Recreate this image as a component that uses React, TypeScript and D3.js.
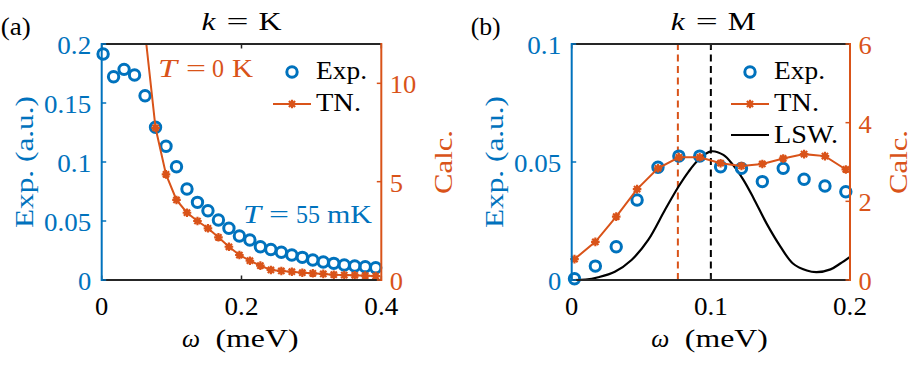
import React from "react";
import * as d3 from "d3";

const BLUE = "#0072BD";
const ORANGE = "#D95319";
const AXIS = "#262626";
const FONT = "'Liberation Serif', 'Times New Roman', serif";

// Panel (a): k = K
const omegaA = [0.002, 0.017, 0.032, 0.047, 0.062, 0.077, 0.092, 0.107, 0.122, 0.137, 0.152, 0.167, 0.182, 0.197, 0.212, 0.227, 0.242, 0.257, 0.272, 0.287, 0.302, 0.317, 0.332, 0.347, 0.362, 0.377, 0.392];
const expA = [0.1915, 0.1723, 0.1785, 0.1737, 0.1562, 0.1294, 0.1133, 0.096, 0.0771, 0.0658, 0.0587, 0.0508, 0.0438, 0.0373, 0.0339, 0.0282, 0.0258, 0.0235, 0.0212, 0.0192, 0.0169, 0.0153, 0.0141, 0.0127, 0.0119, 0.0113, 0.0104];
const omegaTnA = [0.062, 0.077, 0.092, 0.107, 0.122, 0.137, 0.152, 0.167, 0.182, 0.197, 0.212, 0.227, 0.242, 0.257, 0.272, 0.287, 0.302, 0.317, 0.332, 0.347, 0.362, 0.377, 0.392];
const tnA = [12.6, 7.74, 5.37, 4.07, 3.42, 3.0, 2.63, 2.17, 1.69, 1.27, 0.98, 0.73, 0.51, 0.46, 0.42, 0.37, 0.34, 0.31, 0.27, 0.25, 0.24, 0.22, 0.2];
const xTicksA = [0, 0.2, 0.4];
const leftTicksA = [0, 0.05, 0.1, 0.15, 0.2];
const rightTicksA = [0, 5, 10];

// Panel (b): k = M
const omegaB = [0.002, 0.017, 0.032, 0.047, 0.062, 0.077, 0.092, 0.107, 0.122, 0.137, 0.152, 0.167, 0.182, 0.197];
const expB = [0.0005, 0.0059, 0.0141, 0.0339, 0.0478, 0.0525, 0.0525, 0.048, 0.0473, 0.0417, 0.0473, 0.0427, 0.0398, 0.0374];
const tnB = [0.53, 0.97, 1.61, 2.31, 2.84, 3.12, 3.12, 2.97, 2.9, 2.95, 3.09, 3.2, 3.15, 2.81];
const omegaLswB = [0, 0.01, 0.0191, 0.031, 0.043, 0.055, 0.067, 0.0767, 0.0839, 0.091, 0.1, 0.109, 0.116, 0.1235, 0.1307, 0.14, 0.15, 0.159, 0.169, 0.176, 0.186, 0.193, 0.2];
const lswB = [0, 0.01, 0.07, 0.21, 0.51, 1.02, 1.78, 2.37, 2.75, 3.05, 3.27, 3.18, 2.92, 2.54, 2.08, 1.44, 0.85, 0.42, 0.24, 0.2, 0.27, 0.42, 0.59];
const xTicksB = [0, 0.1, 0.2];
const leftTicksB = [0, 0.05, 0.1];
const rightTicksB = [0, 2, 4, 6];
const vLinesB = [
  { omega: 0.0763, color: ORANGE },
  { omega: 0.1, color: "#000" },
];

const FS = 25;
const EM = 26.5;

function numLen(s: string) {
  let w = 0;
  for (const c of s) w += c === "." ? 0.278 : 0.5;
  return w * EM;
}

function starPath(r: number) {
  const k = r * 0.72;
  return `M${-r},0L${r},0M0,${-r}L0,${r}M${-k},${-k}L${k},${k}M${-k},${k}L${k},${-k}`;
}

type Part = { t: string; x: number; len: number; italic?: boolean };

function MathText({ parts, y, fill = "#000", fs = 26 }: { parts: Part[]; y: number; fill?: string; fs?: number }) {
  return (
    <g fill={fill} fontSize={fs}>
      {parts.map((p, i) => (
        <text
          key={i}
          x={p.x}
          y={y}
          fontStyle={p.italic ? "italic" : "normal"}
          textLength={p.len}
          lengthAdjust="spacingAndGlyphs"
        >
          {p.t}
        </text>
      ))}
    </g>
  );
}

function Num({ v, x, y, anchor, fill }: { v: number; x: number; y: number; anchor: "start" | "middle" | "end"; fill: string }) {
  const s = String(v);
  const len = numLen(s);
  const x0 = anchor === "start" ? x : anchor === "middle" ? x - len / 2 : x - len;
  return (
    <text x={x0} y={y} fontSize={FS} fill={fill} textLength={len} lengthAdjust="spacingAndGlyphs">
      {s}
    </text>
  );
}

type PanelProps = {
  id: string;
  left: number;
  right: number;
  top: number;
  bottom: number;
  xDomain: [number, number];
  leftDomain: [number, number];
  rightDomain: [number, number];
  xTicks: number[];
  leftTicks: number[];
  rightTicks: number[];
  letter: string;
  titleSym: string;
  titleSymLen: number;
  calcOffset: number;
  exp: { x: number[]; y: number[] };
  tn: { x: number[]; y: number[] };
  lsw?: { x: number[]; y: number[] };
  vLines?: { omega: number; color: string }[];
  legendRows: number;
  legendX: number;
  children?: React.ReactNode;
};

function Panel(p: PanelProps) {
  const xs = d3.scaleLinear().domain(p.xDomain).range([p.left, p.right]);
  const yl = d3.scaleLinear().domain(p.leftDomain).range([p.bottom, p.top]);
  const yr = d3.scaleLinear().domain(p.rightDomain).range([p.bottom, p.top]);
  const line = d3
    .line<number>()
    .x((_, i) => xs(p.tn.x[i]))
    .y((d) => yr(d));
  const lswLine = p.lsw
    ? d3
        .line<number>()
        .x((_, i) => xs(p.lsw!.x[i]))
        .y((d) => yr(d))
        .curve(d3.curveCatmullRom.alpha(0.5))
    : null;
  const cx = (p.left + p.right) / 2;
  const cy = (p.top + p.bottom) / 2;
  const tick = 4.5;
  const lx = p.legendX;
  return (
    <g>
      <defs>
        <clipPath id={`clip-${p.id}`}>
          <rect x={p.left} y={p.top} width={p.right - p.left} height={p.bottom - p.top} />
        </clipPath>
      </defs>
      {p.vLines?.map((v, i) => (
        <line
          key={i}
          x1={xs(v.omega)}
          x2={xs(v.omega)}
          y1={p.bottom}
          y2={p.top}
          stroke={v.color}
          strokeWidth={2}
          strokeDasharray="7,4.5"
        />
      ))}
      {lswLine && (
        <path d={lswLine(p.lsw!.y) || ""} fill="none" stroke="#000" strokeWidth={2.2} clipPath={`url(#clip-${p.id})`} />
      )}
      {p.exp.y.map((v, i) => (
        <circle key={i} cx={xs(p.exp.x[i])} cy={yl(v)} r={5.2} fill="none" stroke={BLUE} strokeWidth={3} />
      ))}
      <path d={line(p.tn.y) || ""} fill="none" stroke={ORANGE} strokeWidth={2} clipPath={`url(#clip-${p.id})`} />
      {p.tn.y.map((v, i) =>
        v <= p.rightDomain[1] ? (
          <path
            key={i}
            d={starPath(4.3)}
            transform={`translate(${xs(p.tn.x[i])},${yr(v)})`}
            fill="none"
            stroke={ORANGE}
            strokeWidth={2.2}
          />
        ) : null
      )}
      <line x1={p.left} x2={p.right} y1={p.top} y2={p.top} stroke={AXIS} strokeWidth={2} />
      <line x1={p.left} x2={p.right} y1={p.bottom} y2={p.bottom} stroke={AXIS} strokeWidth={2} />
      {p.xTicks.map((t, i) => (
        <g key={i}>
          <line x1={xs(t)} x2={xs(t)} y1={p.bottom} y2={p.bottom - tick} stroke={AXIS} strokeWidth={1.5} />
          <line x1={xs(t)} x2={xs(t)} y1={p.top} y2={p.top + tick} stroke={AXIS} strokeWidth={1.5} />
          <Num v={t} x={xs(t)} y={p.bottom + 35} anchor="middle" fill="#000" />
        </g>
      ))}
      <line x1={p.left} x2={p.left} y1={p.top - 1} y2={p.bottom + 1} stroke={BLUE} strokeWidth={2} />
      {p.leftTicks.map((t, i) => (
        <g key={i}>
          <line x1={p.left} x2={p.left + tick} y1={yl(t)} y2={yl(t)} stroke={BLUE} strokeWidth={1.5} />
          <Num v={t} x={p.left - 10.5} y={yl(t) + 10} anchor="end" fill={BLUE} />
        </g>
      ))}
      <line x1={p.right} x2={p.right} y1={p.top - 1} y2={p.bottom + 1} stroke={ORANGE} strokeWidth={2} />
      {p.rightTicks.map((t, i) => (
        <g key={i}>
          <line x1={p.right} x2={p.right - tick} y1={yr(t)} y2={yr(t)} stroke={ORANGE} strokeWidth={1.5} />
          <Num v={t} x={p.right + 8.5} y={yr(t) + 10} anchor="start" fill={ORANGE} />
        </g>
      ))}
      <MathText
        y={30}
        parts={[
          { t: "k", x: cx - 40, len: 14, italic: true },
          { t: "=", x: cx - 15, len: 22 },
          { t: p.titleSym, x: cx + 17, len: p.titleSymLen },
        ]}
      />
      <text x={p.left - 101} y={35} fontSize={25} textLength={30} lengthAdjust="spacingAndGlyphs">
        ({p.letter})
      </text>
      <MathText
        y={347}
        parts={[
          { t: "ω", x: cx - 59.5, len: 18, italic: true },
          { t: "(meV)", x: cx - 26, len: 83 },
        ]}
      />
      <text
        transform={`translate(${p.left - 68.5},${cy}) rotate(-90)`}
        textAnchor="middle"
        fontSize={26}
        fill={BLUE}
        textLength={132}
        lengthAdjust="spacingAndGlyphs"
      >
        Exp. (a.u.)
      </text>
      <text
        transform={`translate(${p.right + p.calcOffset},${cy}) rotate(-90)`}
        textAnchor="middle"
        fontSize={26}
        fill={ORANGE}
        textLength={64}
        lengthAdjust="spacingAndGlyphs"
      >
        Calc.
      </text>
      <circle cx={lx + 19} cy={72} r={5.2} fill="none" stroke={BLUE} strokeWidth={3} />
      <text x={lx + 43} y={79} fontSize={25} textLength={51} lengthAdjust="spacingAndGlyphs">
        Exp.
      </text>
      <line x1={lx} x2={lx + 38} y1={104} y2={104} stroke={ORANGE} strokeWidth={2} />
      <path d={starPath(4.3)} transform={`translate(${lx + 19},104)`} fill="none" stroke={ORANGE} strokeWidth={2.2} />
      <text x={lx + 43} y={111} fontSize={25} textLength={45} lengthAdjust="spacingAndGlyphs">
        TN.
      </text>
      {p.legendRows > 2 && (
        <g>
          <line x1={lx} x2={lx + 38} y1={135} y2={135} stroke="#000" strokeWidth={2} />
          <text x={lx + 43} y={143} fontSize={25} textLength={64} lengthAdjust="spacingAndGlyphs">
            LSW.
          </text>
        </g>
      )}
      {p.children}
    </g>
  );
}

export default function App() {
  return (
    <svg
      width={913}
      height={370}
      viewBox="0 0 913 370"
      style={{ position: "absolute", left: 0, top: 0, display: "block", background: "#fff" }}
      fontFamily={FONT}
    >
      <rect x={0} y={0} width={913} height={370} fill="#fff" />
      <Panel
        id="a"
        left={101.7}
        right={381.3}
        top={44}
        bottom={280}
        xDomain={[0, 0.4]}
        leftDomain={[0, 0.2]}
        rightDomain={[0, 12]}
        xTicks={xTicksA}
        leftTicks={leftTicksA}
        rightTicks={rightTicksA}
        letter="a"
        titleSym="K"
        titleSymLen={23}
        calcOffset={71}
        exp={{ x: omegaA, y: expA }}
        tn={{ x: omegaTnA, y: tnA }}
        legendRows={2}
        legendX={273}
      >
        <MathText
          y={77}
          fill={ORANGE}
          parts={[
            { t: "T", x: 158, len: 19, italic: true },
            { t: "=", x: 186, len: 20 },
            { t: "0", x: 212, len: 12 },
            { t: "K", x: 232, len: 21 },
          ]}
        />
        <MathText
          y={223}
          fill={BLUE}
          parts={[
            { t: "T", x: 243, len: 18, italic: true },
            { t: "=", x: 269, len: 20 },
            { t: "55", x: 296, len: 24 },
            { t: "mK", x: 327, len: 45 },
          ]}
        />
      </Panel>
      <Panel
        id="b"
        left={571.7}
        right={850}
        top={44}
        bottom={280}
        xDomain={[0, 0.2]}
        leftDomain={[0, 0.1]}
        rightDomain={[0, 6]}
        xTicks={xTicksB}
        leftTicks={leftTicksB}
        rightTicks={rightTicksB}
        letter="b"
        titleSym="M"
        titleSymLen={28}
        calcOffset={57}
        exp={{ x: omegaB, y: expB }}
        tn={{ x: omegaB, y: tnB }}
        lsw={{ x: omegaLswB, y: lswB }}
        vLines={vLinesB}
        legendRows={3}
        legendX={731}
      />
    </svg>
  );
}
